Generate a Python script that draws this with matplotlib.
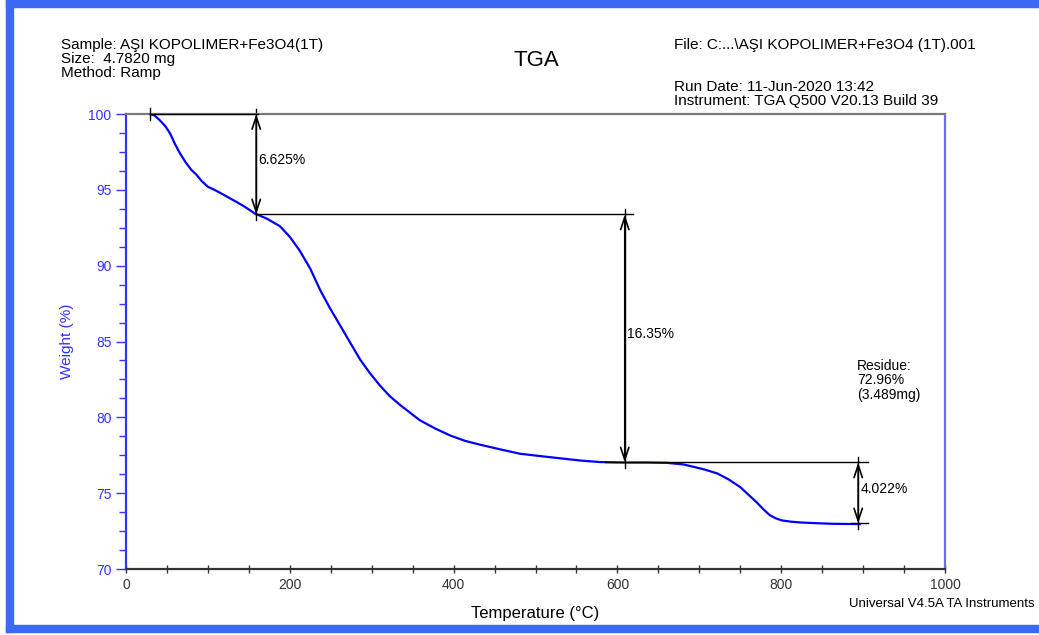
import matplotlib.pyplot as plt
from matplotlib.patches import Rectangle
from matplotlib.ticker import MultipleLocator

# Кривая ТГА: температура (°C) и масса (%)
temperature = [29, 35, 41, 48, 54, 60, 66, 73, 80, 86, 92, 100, 108, 115, 125, 135, 146, 157,
               172, 188, 200, 212, 225, 237, 249, 261, 274, 286, 298, 310, 322, 335, 347, 359,
               378, 396, 414, 432, 456, 481, 505, 530, 555, 579, 609, 635, 660, 680, 692, 707,
               722, 736, 750, 760, 770, 778, 786, 793, 801, 812, 823, 843, 863, 880, 896]
weight = [100.0, 99.9, 99.6, 99.2, 98.7, 98.0, 97.4, 96.8, 96.3, 96.0, 95.6, 95.2, 95.0, 94.8,
          94.5, 94.2, 93.85, 93.45, 93.1, 92.6, 91.9, 91.0, 89.8, 88.4, 87.2, 86.1, 84.9, 83.8,
          82.9, 82.1, 81.4, 80.8, 80.3, 79.8, 79.25, 78.8, 78.45, 78.2, 77.9, 77.6, 77.45, 77.3,
          77.15, 77.05, 77.02, 77.02, 77.0, 76.9, 76.75, 76.55, 76.3, 75.9, 75.4, 74.9, 74.4,
          73.95, 73.55, 73.35, 73.2, 73.12, 73.07, 73.02, 72.98, 72.97, 72.96]

# Ступени потери массы
steps_T = [159, 609, 894]
steps_top = [100.0, 93.375, 77.025]
steps_bottom = [93.375, 77.025, 73.003]
steps_label = ['6.625%', '16.35%', '4.022%']
steps_label_y = [97.0, 85.5, 75.3]

BLUE = '#0000ff'
FRAME = '#3d68f2'
ARIAL = ['Liberation Sans', 'DejaVu Sans']
plt.rcParams['font.family'] = ARIAL

fig = plt.figure(figsize=(10.39, 6.35), dpi=100)
ax = fig.add_axes([126 / 1039, 66 / 635, 819 / 1039, 455 / 635])

ax.plot(temperature, weight, color=BLUE, lw=1.6)

ax.set_xlim(0, 1000)
ax.set_ylim(70, 100)
ax.xaxis.set_major_locator(MultipleLocator(200))
ax.xaxis.set_minor_locator(MultipleLocator(50))
ax.yaxis.set_major_locator(MultipleLocator(5))
ax.yaxis.set_minor_locator(MultipleLocator(1.25))
ax.tick_params(axis='y', which='both', direction='out', colors='#3333ff', labelcolor='#3333ff',
               labelsize=10, length=5, width=1)
ax.tick_params(axis='y', which='major', length=7)
ax.tick_params(axis='x', which='both', direction='inout', colors='#333333', labelsize=10,
               length=6, width=1)

ax.spines['left'].set_color('#3333ff')
ax.spines['right'].set_color('#6a6aff')
ax.spines['top'].set_color('#7a7a7a')
ax.spines['bottom'].set_color('#333333')
for s in ax.spines.values():
    s.set_linewidth(1.6)

ax.set_ylabel('Weight (%)', color='#3333ff', fontsize=11, labelpad=10)
ax.set_xlabel('Temperature (°C)', fontsize=12, labelpad=10)

# Размерные линии ступеней
ax.plot([29, 161], [100, 100], color='k', lw=1, clip_on=False, zorder=5)
ax.plot([29, 29], [99.6, 100.4], color='k', lw=1, clip_on=False, zorder=5)
ax.plot([157, 619], [93.375, 93.375], color='k', lw=1)
ax.plot([585, 906], [77.025, 77.025], color='k', lw=1)
ax.plot([885, 906], [73.003, 73.003], color='k', lw=1)
for x, top, bot, txt, ly in zip(steps_T, steps_top, steps_bottom, steps_label, steps_label_y):
    ax.plot([x, x], [bot - 0.35, top + 0.35], color='k', lw=1, clip_on=False)
    ax.annotate('', xy=(x, top), xytext=(x, bot),
                arrowprops=dict(arrowstyle='<->,head_length=0.9,head_width=0.3', lw=1.2,
                                color='k', shrinkA=0, shrinkB=0), annotation_clip=False)
    ax.text(x + 3, ly, txt, fontsize=10, va='center', ha='left')

ax.text(893, 82.45, 'Residue:\n72.96%\n(3.489mg)', fontsize=10, va='center',
        ha='left', linespacing=1.05)

# Шапка
fig.text(61 / 1039, 1 - 45 / 635, 'Sample: AŞI KOPOLIMER+Fe3O4(1T)', fontsize=11, va='center')
fig.text(61 / 1039, 1 - 59 / 635, 'Size:  4.7820 mg', fontsize=11, va='center')
fig.text(61 / 1039, 1 - 73 / 635, 'Method: Ramp', fontsize=11, va='center')
fig.text(536 / 1039, 1 - 60 / 635, 'TGA', fontsize=16, va='center', ha='center')
fig.text(674 / 1039, 1 - 45 / 635, 'File: C:...\\AŞI KOPOLIMER+Fe3O4 (1T).001', fontsize=11,
         va='center')
fig.text(674 / 1039, 1 - 87 / 635, 'Run Date: 11-Jun-2020 13:42', fontsize=11, va='center')
fig.text(674 / 1039, 1 - 101 / 635, 'Instrument: TGA Q500 V20.13 Build 39', fontsize=11,
         va='center')
fig.text(942 / 1039, 1 - 604 / 635, 'Universal V4.5A TA Instruments', fontsize=9.5,
         va='center', ha='center')

# Синяя рамка
fig.patches.append(Rectangle((6 / 1039, 1 - 6.5 / 635), 1, 6.5 / 635, transform=fig.transFigure,
                             color=FRAME, zorder=0))
fig.patches.append(Rectangle((6 / 1039, 3 / 635), 6.5 / 1039, 1, transform=fig.transFigure,
                             color=FRAME, zorder=0))
fig.patches.append(Rectangle((6 / 1039, 3 / 635), 1, 7 / 635, transform=fig.transFigure,
                             color=FRAME, zorder=0))

fig.savefig('out.png', dpi=100)
